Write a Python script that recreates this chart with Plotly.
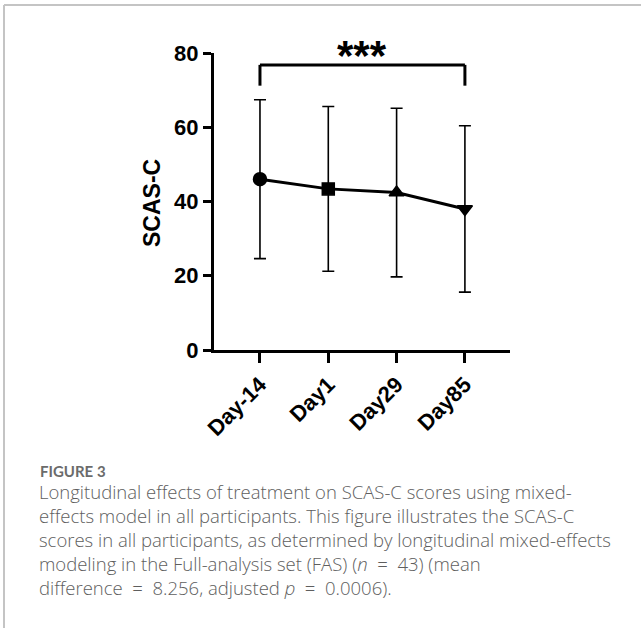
import plotly.graph_objects as go

categories = ["Day-14", "Day1", "Day29", "Day85"]
means = [46.0, 43.4, 42.4, 38.0]
sds = [21.4, 22.2, 22.7, 22.4]
symbols = ["circle", "square", "triangle-up", "triangle-down"]
y_ticks = [0, 20, 40, 60, 80]
y_title = "SCAS-C"
caption_title = "FIGURE 3"
caption_lines = [
    "Longitudinal effects of treatment on SCAS-C scores using mixed-",
    "effects model in all participants. This figure illustrates the SCAS-C",
    "scores in all participants, as determined by longitudinal mixed-effects",
    "modeling in the Full-analysis set (FAS) (<i>n</i>  =  43) (mean",
    "difference  =  8.256, adjusted <i>p</i>  =  0.0006).",
]

W, H = 641, 628
xs = list(range(len(categories)))

fig = go.Figure()
fig.add_trace(go.Scatter(
    x=xs, y=means, mode="lines+markers",
    line=dict(color="black", width=3),
    marker=dict(symbol=symbols, size=[13, 12, 13, 13], color="black", opacity=1,
                line=dict(color="black", width=1.5)),
    error_y=dict(type="data", array=sds, visible=True, color="black",
                 thickness=1.6, width=6),
    showlegend=False, cliponaxis=False,
))

axis_font = dict(family="Liberation Sans", size=22, color="black", weight="bold")

fig.update_layout(
    width=W, height=H, autosize=False,
    margin=dict(l=0, r=0, t=0, b=0, autoexpand=False),
    paper_bgcolor="white", plot_bgcolor="white",
    xaxis=dict(
        domain=[214 / W, 510 / W],
        range=[-0.673, 3.66],
        tickvals=xs, ticktext=categories, tickangle=-45,
        showline=True, linecolor="black", linewidth=3,
        ticks="outside", ticklen=10, tickwidth=3, tickcolor="black",
        showgrid=False, zeroline=False, tickfont=axis_font, automargin=False,
    ),
    yaxis=dict(
        domain=[(H - 350) / H, (H - 53) / H],
        range=[0, 80],
        tickvals=y_ticks,
        showline=True, linecolor="black", linewidth=3,
        ticks="outside", ticklen=8, tickwidth=3, tickcolor="black",
        showgrid=False, zeroline=False, tickfont=axis_font, automargin=False,
    ),
)

# y-axis title
fig.add_annotation(x=152 / W, y=(H - 203) / H, xref="paper", yref="paper", text=y_title,
                   textangle=-90, showarrow=False, xanchor="center", yanchor="middle",
                   font=dict(family="Liberation Sans", size=23, color="black", weight="bold"))

# significance bracket
fig.add_shape(type="line", xref="x", yref="y", x0=0, x1=0, y0=71.2, y1=76.8,
              line=dict(color="black", width=3))
fig.add_shape(type="line", xref="x", yref="y", x0=0, x1=3, y0=76.8, y1=76.8,
              line=dict(color="black", width=3))
fig.add_shape(type="line", xref="x", yref="y", x0=3, x1=3, y0=71.2, y1=76.8,
              line=dict(color="black", width=3))
fig.add_annotation(x=1.5, y=(H - 55) / H, xref="x", yref="paper", text="***", showarrow=False,
                   font=dict(family="Liberation Sans", size=42, color="black", weight="bold"),
                   yanchor="middle", xanchor="center")

# frame lines
fig.add_shape(type="line", xref="paper", yref="paper", x0=4 / W, x1=1, y0=(H - 5) / H, y1=(H - 5) / H,
              line=dict(color="#c4c4c4", width=2))
fig.add_shape(type="line", xref="paper", yref="paper", x0=4 / W, x1=4 / W, y0=0, y1=(H - 5) / H,
              line=dict(color="#c4c4c4", width=2))

# caption
fig.add_annotation(x=38 / W, y=(H - 482) / H, xref="paper", yref="paper", text=caption_title,
                   showarrow=False, xanchor="left", yanchor="bottom",
                   font=dict(family="Lato", size=15, color="#6b6b6b", weight="bold"))
for i, line in enumerate(caption_lines):
    fig.add_annotation(x=37 / W, y=(H - (506 + 24 * i)) / H, xref="paper", yref="paper",
                       text=line, showarrow=False, xanchor="left", yanchor="bottom",
                       font=dict(family="Open Sans", size=18.5, color="#5e5e5e", weight=300))

post = ("var s=document.createElement('style');"
        "s.textContent='html,body{margin:0;padding:0;overflow:hidden}';"
        "document.head.appendChild(s);")

fig.write_html("out.html", post_script=post, config={"displayModeBar": False})
